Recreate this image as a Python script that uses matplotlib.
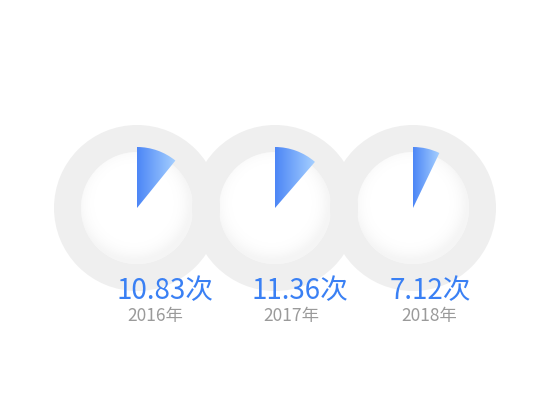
import numpy as np
import matplotlib
matplotlib.use("Agg")
import matplotlib.pyplot as plt
from matplotlib.patches import Wedge, Circle
from matplotlib.colors import LinearSegmentedColormap

plt.rcParams['font.family'] = ['Noto Sans CJK SC', 'DejaVu Sans']

years = ['2016年', '2017年', '2018年']
values = [10.83, 11.36, 7.12]
max_value = 100.0

W, H = 550, 420
centers_x = [137, 275, 413]
center_y = H - 208
r_out, r_in, r_sector = 83, 56, 61

fig = plt.figure(figsize=(W / 100, H / 100), dpi=100)
ax = fig.add_axes([0, 0, 1, 1])
ax.set_xlim(0, W)
ax.set_ylim(0, H)
ax.set_aspect('equal')
ax.axis('off')

ring_color = '#efefef'
blue_cmap = LinearSegmentedColormap.from_list('b', ['#4c86f6', '#a6d0ff'])

# soft inner shading of each ring
n = 200
g = np.linspace(-r_in, r_in, n)
gx, gy = np.meshgrid(g, g)
rr = np.sqrt((gx + 3) ** 2 + (gy - 5) ** 2)
shade = np.clip((rr - 38) / (r_in - 38), 0, 1) ** 2 * 0.35
rgba = np.zeros((n, n, 4))
rgba[..., :3] = 0.90
rgba[..., 3] = shade

for cx in centers_x:
    im = ax.imshow(rgba, extent=(cx - r_in, cx + r_in, center_y - r_in, center_y + r_in),
                   origin='lower', zorder=1, interpolation='bilinear')
    im.set_clip_path(Circle((cx, center_y), r_in, transform=ax.transData))

for cx in centers_x:
    ax.add_patch(Wedge((cx, center_y), r_out, 0, 360, width=r_out - r_in,
                       facecolor=ring_color, edgecolor='none', zorder=2))

grad = np.linspace(0, 1, 256).reshape(1, -1)
for cx, v in zip(centers_x, values):
    ang = v / max_value * 360
    wedge = Wedge((cx, center_y), r_sector, 90 - ang, 90,
                  facecolor='none', edgecolor='none', zorder=3)
    ax.add_patch(wedge)
    x1 = cx + r_sector * np.sin(np.radians(ang))
    im = ax.imshow(grad, cmap=blue_cmap, aspect='auto', zorder=3,
                   extent=(cx, max(x1, cx + 1), center_y, center_y + r_sector),
                   interpolation='bilinear')
    im.set_clip_path(wedge)

value_x = [165, 300, 430]
year_x = [155, 291, 429]
for vx, yx, v, yr in zip(value_x, year_x, values, years):
    ax.text(vx, H - 291, f'{v:.2f}次', ha='center', va='center',
            fontsize=20, fontweight='medium', color='#3a80f4', zorder=5)
    ax.text(yx, H - 316, yr, ha='center', va='center',
            fontsize=12.5, fontweight='light', color='#9a9a9a', zorder=5)

fig.savefig('out.png', dpi=100)
